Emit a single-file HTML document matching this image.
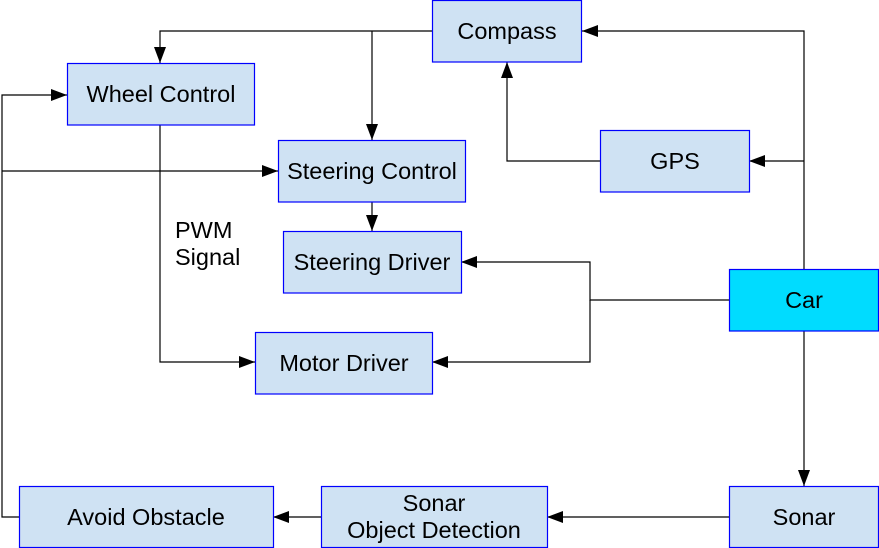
<!DOCTYPE html>
<html><head><style>body{margin:0;background:#fff}svg{display:block}text{font-family:"Liberation Sans",Arial,sans-serif;font-size:23.5px;fill:#000}</style></head><body>
<svg width="879" height="548" viewBox="0 0 879 548" xmlns="http://www.w3.org/2000/svg">
<defs><marker id="a" markerWidth="16" markerHeight="12" refX="16" refY="6" orient="auto" markerUnits="userSpaceOnUse"><path d="M0,0L16,6L0,12z" fill="#000"/></marker></defs>
<g stroke="#000" stroke-width="1.2" fill="none">
<path d="M432,31H160V63" marker-end="url(#a)"/>
<path d="M372,31V140" marker-end="url(#a)"/>
<path d="M804,269V31H582" marker-end="url(#a)"/>
<path d="M804,161H749" marker-end="url(#a)"/>
<path d="M600,161H507V62" marker-end="url(#a)"/>
<path d="M160,125V362H255" marker-end="url(#a)"/>
<path d="M372,202V231" marker-end="url(#a)"/>
<path d="M729,300H590V262H461" marker-end="url(#a)"/>
<path d="M590,300V362H432" marker-end="url(#a)"/>
<path d="M804,331V486" marker-end="url(#a)"/>
<path d="M729,517H547" marker-end="url(#a)"/>
<path d="M321,517H273" marker-end="url(#a)"/>
<path d="M19,517H2V95H67" marker-end="url(#a)"/>
<path d="M2,171H278" marker-end="url(#a)"/>
</g>
<g stroke="#0000ff" stroke-width="1.2" fill="#cfe2f3">
<rect x="432.5" y="0.5" width="149" height="61.5"/>
<rect x="67.5" y="63.5" width="187" height="61.5"/>
<rect x="278.5" y="140.5" width="187" height="61.5"/>
<rect x="600.5" y="130.5" width="149" height="61.5"/>
<rect x="283.5" y="231.5" width="178" height="61.5"/>
<rect x="729.5" y="269.5" width="149" height="61.5" fill="#00dcff"/>
<rect x="255.5" y="332.5" width="177" height="61.5"/>
<rect x="19.5" y="486.5" width="254" height="61"/>
<rect x="321.5" y="486.5" width="226" height="61"/>
<rect x="729.5" y="486.5" width="149" height="61"/>
</g>
<g text-anchor="middle">
<text x="507" y="39">Compass</text>
<text x="161" y="102">Wheel Control</text>
<text x="372" y="179">Steering Control</text>
<text x="675" y="169">GPS</text>
<text x="372" y="270">Steering Driver</text>
<text x="804" y="308">Car</text>
<text x="344" y="371">Motor Driver</text>
<text x="146" y="525">Avoid Obstacle</text>
<text x="434" y="511">Sonar</text>
<text x="434" y="538">Object Detection</text>
<text x="804" y="525">Sonar</text>
</g>
<text x="175" y="238">PWM</text>
<text x="175" y="265">Signal</text>
</svg>
</body></html>
